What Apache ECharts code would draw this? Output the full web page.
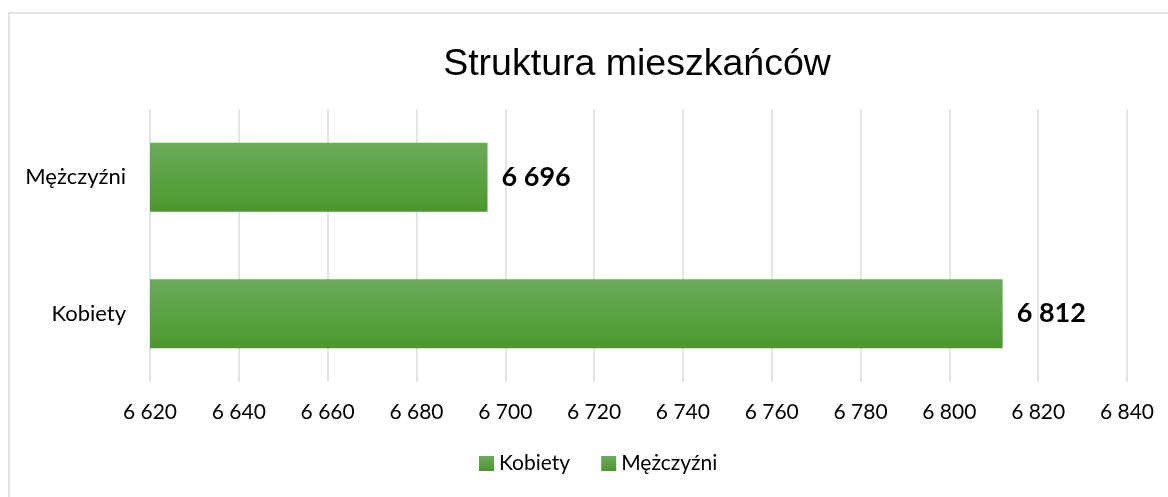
<!DOCTYPE html>
<html>
<head>
<meta charset="utf-8">
<script src="https://cdn.jsdelivr.net/npm/echarts@6/dist/echarts.min.js"></script>
<style type="text/css">
html, body{margin:0;padding:0;background:#fff;}
#main{width:1168px;height:497px;}
</style>
</head>
<body>
<div id="main"></div>
<script>
    // dane
    var categories = ['Kobiety', 'Mężczyźni'];
    var seriesNames = ['Kobiety', 'Mężczyźni'];
    var kobiety = [6812, '-'];
    var mezczyzni = ['-', 6696];
    var axisMin = 6620, axisMax = 6840, axisStep = 20;

    // "6 696" - separator tysięcy spacją
    function fmt(v){
        return String(v).replace(/\B(?=(\d{3})+(?!\d))/g, ' ');
    }

    var barColor = new echarts.graphic.LinearGradient(0, 0, 0, 1, [
        {offset: 0, color: '#6bab5b'},
        {offset: 1, color: '#4a992c'}
    ]);

    function makeSeries(name, data){
        return {
            name: name,
            type: 'bar',
            stack: 'all',
            data: data,
            barWidth: 69,
            itemStyle: {color: barColor},
            label: {
                show: true,
                position: 'right',
                distance: 14,
                fontFamily: 'Lato',
                fontWeight: 'bold',
                fontSize: 27,
                color: '#000',
                formatter: function(p){ return fmt(p.value); }
            }
        };
    }

    var chart = echarts.init(document.getElementById('main'));
    var option = {
        backgroundColor: '#fff',
        animation: false,
        title: {
            text: 'Struktura mieszkańców',
            left: 632,
            top: 41,
            textAlign: 'center',
            textStyle: {fontFamily: 'Liberation Sans', fontWeight: 'normal', fontSize: 37.5, color: '#000'}
        },
        legend: {
            bottom: 18,
            left: 474,
            icon: 'rect',
            itemWidth: 15,
            itemHeight: 15,
            itemGap: 31,
            data: seriesNames,
            textStyle: {fontFamily: 'Lato', fontSize: 21, color: '#000'}
        },
        grid: {left: 150, right: 41, top: 109, bottom: 115},
        xAxis: {
            type: 'value',
            min: axisMin,
            max: axisMax,
            interval: axisStep,
            axisLine: {show: false},
            axisTick: {show: false},
            splitLine: {lineStyle: {color: '#e0e6e6', width: 2}},
            axisLabel: {
                margin: 20,
                fontFamily: 'Lato',
                fontSize: 21,
                color: '#000',
                formatter: fmt
            }
        },
        yAxis: {
            type: 'category',
            data: categories,
            axisLine: {show: false},
            axisTick: {show: false},
            axisLabel: {margin: 24, fontFamily: 'Lato', fontSize: 22, color: '#000'}
        },
        graphic: [{
            type: 'rect',
            shape: {x: 9, y: 13, width: 1300, height: 700},
            style: {fill: null, stroke: '#dfe5e5', lineWidth: 2},
            silent: true
        }],
        series: [
            makeSeries(seriesNames[0], kobiety),
            makeSeries(seriesNames[1], mezczyzni)
        ]
    };
    chart.setOption(option);
</script>
</body>
</html>
